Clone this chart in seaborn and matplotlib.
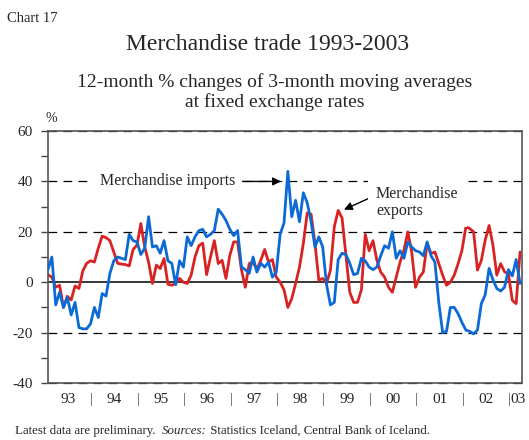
import numpy as np
import pandas as pd
import matplotlib
matplotlib.use("Agg")
import matplotlib.pyplot as plt
import matplotlib.transforms as mtransforms
import seaborn as sns

# monthly values, Jan 1993 - Mar 2003
imports = [5, 10, -9, -4, -10, -6, -13, -8, -18, -18.5,
           -18.5, -16.5, -10, -14, -4.5, -5.5, 3.5, 8.5, 10, 9.5,
           9, 19, 16.5, 16, 11, 13.5, 26, 14, 14.5, 11.5,
           16.5, 8.5, 7.5, -1, 8.5, 6, 18, 14.5, 18, 20.5,
           21, 18, 19, 20.5, 29, 27, 24.5, 21, 18.5, 20.5,
           6, 5, 3.5, 10, 4, 7.5, 6, 8, 2, 4,
           19, 23.5, 44, 26, 32.5, 24, 35.5, 31.5, 24, 14,
           18, 14, -1, -9, -8, 9, 11.5, 11, 7.5, 3,
           3.5, 9.5, 8.5, 6, 5, 6, 10.5, 14.5, 13.5, 20,
           9.5, 12.5, 9.5, 16, 14, 12.5, 12, 10.5, 16, 10.5,
           8, -8, -20, -19.5, -10, -10, -12.5, -16, -19, -19.5,
           -20.5, -19, -8.5, -5, 5.5, 1, -2.5, -3.5, -2, 5,
           2.5, 9, -0.5]
exports = [3, 2, -2, -1.2, -10, -5.6, -7, -1.5, -2.5, 4.5,
           7.5, 8.5, 8, 13.5, 18.3, 17.7, 16.5, 12, 7.5, 7.2,
           7, 6.5, 13, 14.7, 23.3, 14, 8, -0.5, 6.8, 5.4,
           9.4, -0.8, -1.2, -0.5, 1.5, 0, -0.5, 2.8, 10, 14.5,
           15.5, 3, 10, 16.5, 7.4, 8.7, 1.5, 10.7, 16, 16,
           5, -2, 7.4, 8, 5, 8.7, 13, 8, 9, 2,
           0, -3, -10, -6.5, -0.5, 6, 15.4, 27.5, 27, 15.4,
           0.8, 1.5, -0.5, 4.8, 22, 28.5, 25.5, 10.7, -4, -8,
           -8, -3, 19, 12.5, 16.5, 8.7, 4, 2, -2, -4,
           2, 8, 12.7, 20, 12, -2, 2, 4, 15.4, 11.4,
           12, 7.4, 2.8, -1.2, 0, 2.8, 7.4, 12.7, 22, 21.3,
           20, 4.8, 8.7, 16.7, 22.5, 14.7, 2.8, 7.4, 4.1, 3.4,
           -7.2, -8.5, 12]
year_labels = ["93", "94", "95", "96", "97", "98", "99", "00", "01", "02"]

df = pd.DataFrame({"month": np.arange(len(imports)),
                   "imports": imports, "exports": exports})

sns.set_style("white")
plt.rcParams["font.family"] = ["Liberation Serif", "DejaVu Serif"]
plt.rcParams["axes.unicode_minus"] = False

blue = "#0b6ad4"
red = "#d92222"

fig = plt.figure(figsize=(5.29, 4.40), dpi=100)
ax = fig.add_axes([0.0907, 0.1295, 0.896, 0.5727])

for y in [-40, -20, 20, 40, 60]:
    ax.axhline(y, color="black", lw=0.9, ls=(0, (7, 5)), zorder=1, clip_on=False)
ax.axhline(0, color="black", lw=1.1, zorder=1)

sns.lineplot(data=df, x="month", y="exports", color=red, lw=2.0, ax=ax, zorder=2.5)
sns.lineplot(data=df, x="month", y="imports", color=blue, lw=2.0, ax=ax, zorder=2.6)

ax.set_xlim(0, 122.5)
ax.set_ylim(-40, 60)
ax.set_yticks([-40, -20, 0, 20, 40, 60])
ax.set_yticks([-30, -10, 10, 30, 50], minor=True)
ax.tick_params(axis="y", which="both", direction="out", length=5, width=1,
               color="#444444", labelsize=11, pad=6, left=True)
ax.set_xticks([])
ax.set_xlabel("")
ax.set_ylabel("")
for s in ax.spines.values():
    s.set_color("#555555")
    s.set_linewidth(1.2)

# year labels and separators below the axis
trans = mtransforms.blended_transform_factory(ax.transData, ax.transAxes)
for k, lab in enumerate(year_labels):
    ax.text(5.2 + 12 * k, -0.065, lab, transform=trans, ha="center", va="center", fontsize=11)
    ax.text(11.3 + 12 * k, -0.065, "|", transform=trans, ha="center", va="center",
            fontsize=11, color="#555555")
ax.text(121.6, -0.065, "03", transform=trans, ha="center", va="center", fontsize=11)

ax.text(0.008, 1.05, "%", transform=ax.transAxes, ha="center", va="center", fontsize=10)

# annotations
ax.annotate("Merchandise imports", xy=(60.2, 40), xytext=(13.4, 40),
            ha="left", va="center", fontsize=11.5, zorder=3,
            bbox=dict(boxstyle="square,pad=0.45", fc="white", ec="none"),
            arrowprops=dict(arrowstyle="-|>", color="black", lw=1,
                            mutation_scale=12, shrinkA=0, shrinkB=0))
ax.annotate("Merchandise\nexports", xy=(76.5, 28.8), xytext=(84.8, 31.7),
            ha="left", va="center", fontsize=11.5, zorder=3, linespacing=1.1,
            bbox=dict(boxstyle="square,pad=0.5", fc="white", ec="none"),
            arrowprops=dict(arrowstyle="-|>", color="black", lw=1,
                            mutation_scale=12, shrinkA=0, shrinkB=0,
                            relpos=(0, 0.72)))

# titles
fig.text(7 / 529, 1 - 19 / 440, "Chart 17", ha="left", va="center", fontsize=10.5)
fig.text(268 / 529, 1 - 44 / 440, "Merchandise trade 1993-2003", ha="center",
         va="center", fontsize=17)
fig.text(275 / 529, 1 - 92 / 440,
         "12-month % changes of 3-month moving averages\nat fixed exchange rates",
         ha="center", va="center", fontsize=14, linespacing=1.17)

# footer with italic "Sources:"
t1 = fig.text(15 / 529, 1 - 437 / 440, "Latest data are preliminary.  ",
              ha="left", va="bottom", fontsize=9.3)
t2 = ax.annotate("Sources:", xy=(1, 0), xycoords=t1, ha="left", va="bottom",
                 fontsize=9.3, style="italic", annotation_clip=False)
ax.annotate(" Statistics Iceland, Central Bank of Iceland.", xy=(1, 0), xycoords=t2,
            ha="left", va="bottom", fontsize=9.3, annotation_clip=False)

fig.savefig("out.png", dpi=100, facecolor="white")
